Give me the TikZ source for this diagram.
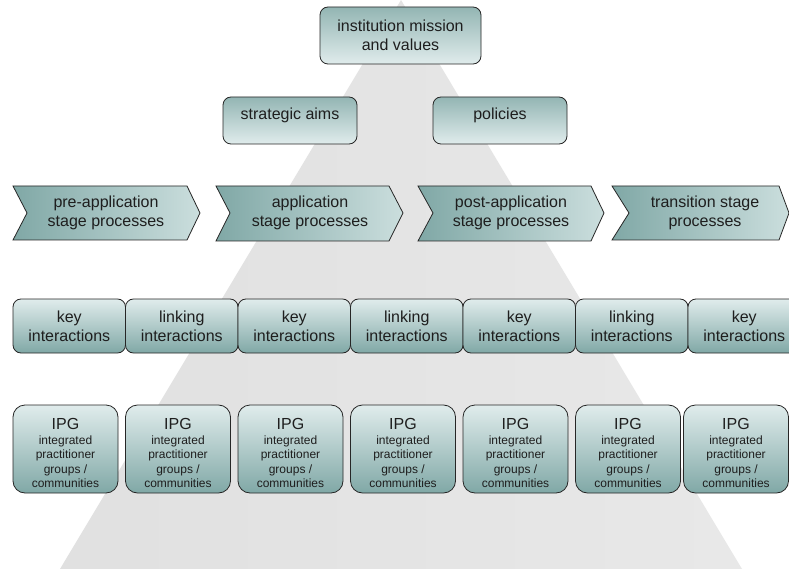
\documentclass[tikz,border=0pt]{standalone}
\usepackage{fontspec}
\setmainfont{Liberation Sans}
\definecolor{tdark}{RGB}{128,168,166}
\definecolor{tlight}{RGB}{224,236,236}
\definecolor{tmid}{RGB}{190,214,213}
\definecolor{txt}{RGB}{30,30,30}
\tikzset{
  base/.style={draw=black!85, line width=0.8pt, text=txt, align=center, inner sep=0pt},
  topbox/.style={base, rounded corners=8pt, top color=tdark!85, bottom color=tlight,
     font=\fontsize{16}{19.5}\selectfont},
  keybox/.style={base, rounded corners=8pt, top color=tlight, bottom color=tdark,
     minimum width=112.5pt, minimum height=54pt, font=\fontsize{16}{19}\selectfont},
  ipgbox/.style={base, rounded corners=12pt, top color=tlight, bottom color=tdark,
     minimum width=105pt, minimum height=88pt, font=\fontsize{12}{14.3}\selectfont},
  chev/.style={draw=black!85, line width=0.8pt, left color=tdark, right color=tmid!80!white},
  chevtext/.style={text=txt, align=center, inner sep=0pt, font=\fontsize{16}{19}\selectfont},
}
\newcommand{\ipgtext}{{\fontsize{16}{16}\selectfont\raisebox{0pt}[19pt][0pt]{IPG}}\\[1pt]integrated\\practitioner\\groups /\\communities}
\begin{document}
\begin{tikzpicture}[x=1pt,y=-1pt]
\useasboundingbox (0,0) rectangle (789,569);
\clip (0,0) rectangle (789,569);
\fill[white] (0,0) rectangle (789,569);
% background pyramid
\shade[left color=black!12, middle color=black!4, right color=black!9] (401,0) -- (742,569) -- (60,569) -- cycle;
% top levels
\node[topbox, minimum width=161pt, minimum height=57pt] (mission) at (400.5,35.5) {institution mission\\and values};
\node[topbox, minimum width=134pt, minimum height=47pt, text height=12pt, text depth=14pt] (aims) at (290,120.5) {strategic aims};
\node[topbox, minimum width=134pt, minimum height=47pt, text height=12pt, text depth=14pt] (policies) at (500,120.5) {policies};
% chevrons
\path[chev] (13,186) -- (187,186) -- (200,213) -- (187,240) -- (13,240) -- (27,213) -- cycle;
\node[chevtext] (pre) at (106,212.5) {pre-application\\stage processes};
\path[chev] (216,186) -- (389,186) -- (403,213) -- (389,241) -- (216,241) -- (230,213) -- cycle;
\node[chevtext] (app) at (310,212.5) {application\\stage processes};
\path[chev] (418,186) -- (591,186) -- (604,213) -- (591,241) -- (418,241) -- (433,213) -- cycle;
\node[chevtext] (post) at (511,212.5) {post-application\\stage processes};
\path[chev] (612,186) -- (779,186) -- (789,213) -- (779,240) -- (612,240) -- (629,213) -- cycle;
\node[chevtext] (trans) at (705,212.5) {transition stage\\processes};
% interactions row
\node[keybox] (k1) at (69.25,326) {key\\interactions};
\node[keybox] (k2) at (181.75,326) {linking\\interactions};
\node[keybox] (k3) at (294.25,326) {key\\interactions};
\node[keybox] (k4) at (406.75,326) {linking\\interactions};
\node[keybox] (k5) at (519.25,326) {key\\interactions};
\node[keybox] (k6) at (631.75,326) {linking\\interactions};
\node[keybox] (k7) at (744.25,326) {key\\interactions};
% IPG row
\node[ipgbox] (g1) at (65.5,449) {\ipgtext};
\node[ipgbox] (g2) at (178,449) {\ipgtext};
\node[ipgbox] (g3) at (290.5,449) {\ipgtext};
\node[ipgbox] (g4) at (403,449) {\ipgtext};
\node[ipgbox] (g5) at (515.5,449) {\ipgtext};
\node[ipgbox] (g6) at (628,449) {\ipgtext};
\node[ipgbox] (g7) at (736,449) {\ipgtext};
\end{tikzpicture}
\end{document}
